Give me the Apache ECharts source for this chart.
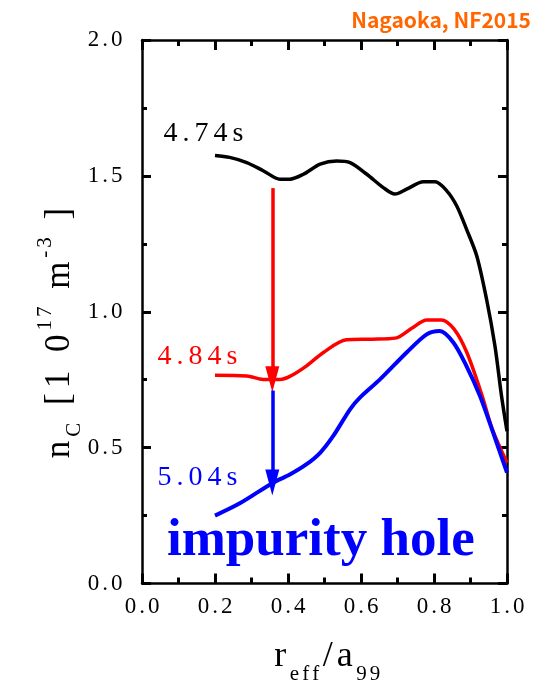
<!DOCTYPE html>
<html>
<head>
<meta charset="utf-8">
<script src="https://cdn.jsdelivr.net/npm/echarts@6/dist/echarts.min.js"></script>
<style>
html,body{margin:0;padding:0;background:#fff;}
#chart{width:559px;height:696px;}
</style>
</head>
<body>
<div id="chart"></div>
<script>
// ---- data ----
var xTickLabels = ['0.0','0.2','0.4','0.6','0.8','1.0'];
var yTickLabels = ['0.0','0.5','1.0','1.5','2.0'];

var t474_x = [0.200,0.240,0.287,0.332,0.378,0.405,0.442,0.488,0.533,0.570,0.616,0.661,0.693,0.725,0.771,0.803,0.835,0.862,0.889,0.917,0.944,0.967,0.985,1.000];
var t474_y = [1.575,1.568,1.549,1.519,1.488,1.488,1.506,1.543,1.555,1.549,1.506,1.457,1.433,1.451,1.478,1.478,1.445,1.390,1.304,1.206,1.046,0.874,0.690,0.560];

var t484_x = [0.200,0.287,0.332,0.378,0.405,0.450,0.497,0.560,0.630,0.694,0.740,0.780,0.820,0.855,0.890,0.932,0.960,1.000];
var t484_y = [0.766,0.764,0.751,0.751,0.762,0.800,0.850,0.897,0.899,0.903,0.940,0.970,0.970,0.936,0.850,0.690,0.567,0.444];

var t504_x = [0.200,0.268,0.359,0.405,0.450,0.488,0.524,0.570,0.597,0.652,0.725,0.780,0.816,0.853,0.889,0.926,0.962,1.000];
var t504_y = [0.250,0.295,0.371,0.401,0.438,0.481,0.543,0.641,0.684,0.751,0.850,0.917,0.929,0.887,0.800,0.690,0.555,0.408];

var seriesNames = ['4.74s','4.84s','5.04s'];
var seriesColors = ['#000000','#ff0000','#0000ff'];

// arrows: [x, yStart, yEnd]
var redArrow = [0.357, 1.455, 0.752];
var blueArrow = [0.357, 0.710, 0.372];

function pairs(xs, ys){ return xs.map(function(x,i){ return [x, ys[i]]; }); }
function spaced(str, name){ return str.split('').map(function(c){ return '{'+name+'|'+c+'}'; }).join(''); }

var serif = '"Liberation Serif","Times New Roman",serif';
var chart = echarts.init(document.getElementById('chart'));

var tickLine = {color:'#000', width:3};
function xAxisCfg(pos, showLabel){
  return {type:'value', position:pos, min:0, max:1, interval:0.2,
    axisLine:{show:true, onZero:false, lineStyle:{color:'#000', width:2.5}},
    axisTick:{show:true, inside:true, length:10, lineStyle:tickLine},
    minorTick:{show:true, splitNumber:2, length:6, lineStyle:tickLine},
    splitLine:{show:false},
    axisLabel:{show:showLabel, margin:12, color:'#000',
      formatter:function(v){ return spaced(xTickLabels[Math.round(v/0.2)],'d'); },
      rich:{d:{fontFamily:serif, fontSize:23, color:'#000', padding:[0,1.5,0,1.5]}}}};
}
function yAxisCfg(pos, showLabel){
  return {type:'value', position:pos, min:0, max:2, interval:0.5,
    axisLine:{show:true, onZero:false, lineStyle:{color:'#000', width:2.5}},
    axisTick:{show:true, inside:true, length:9, lineStyle:tickLine},
    minorTick:{show:true, splitNumber:2, length:5, lineStyle:tickLine},
    splitLine:{show:false},
    axisLabel:{show:showLabel, margin:18, color:'#000',
      formatter:function(v){ return spaced(yTickLabels[Math.round(v/0.5)],'d'); },
      rich:{d:{fontFamily:serif, fontSize:23, color:'#000', padding:[0,1.5,0,1.5]}}}};
}

function arrowMark(a, color){
  return {
    silent:true, animation:false,
    symbol:['none','triangle'], symbolSize:[14,26],
    lineStyle:{color:color, width:3.5, type:'solid'},
    label:{show:false},
    emphasis:{disabled:true},
    data:[[{coord:[a[0],a[1]]},{coord:[a[0],a[2]]}]]
  };
}

var lbl = {fontFamily:serif, fontSize:28, padding:[0,2.5,0,2.5]};
function lblStyle(color){ return {d:Object.assign({}, lbl, {color:color, fill:color})}; }

var option = {
  animation:false,
  grid:{left:142, right:52, top:40, bottom:112.5},
  xAxis:[xAxisCfg('bottom', true), xAxisCfg('top', false)],
  yAxis:[yAxisCfg('left', true), yAxisCfg('right', false)],
  series:[
    {name:seriesNames[0], type:'line', xAxisIndex:0, yAxisIndex:0, data:pairs(t474_x,t474_y), symbol:'none', smooth:0.3,
      lineStyle:{color:seriesColors[0], width:3.5}},
    {name:seriesNames[1], type:'line', xAxisIndex:0, yAxisIndex:0, data:pairs(t484_x,t484_y), symbol:'none', smooth:0.3,
      lineStyle:{color:seriesColors[1], width:3.5}, markLine:arrowMark(redArrow, seriesColors[1])},
    {name:seriesNames[2], type:'line', xAxisIndex:0, yAxisIndex:0, data:pairs(t504_x,t504_y), symbol:'none', smooth:0.3,
      lineStyle:{color:seriesColors[2], width:4}, markLine:arrowMark(blueArrow, seriesColors[2])}
  ],
  graphic:[
    {type:'text', x:161, y:134, style:{text:spaced(seriesNames[0],'d'), rich:lblStyle(seriesColors[0]), align:'left', verticalAlign:'middle'}},
    {type:'text', x:155, y:357, style:{text:spaced(seriesNames[1],'d'), rich:lblStyle(seriesColors[1]), align:'left', verticalAlign:'middle'}},
    {type:'text', x:155, y:478, style:{text:spaced(seriesNames[2],'d'), rich:lblStyle(seriesColors[2]), align:'left', verticalAlign:'middle'}},
    {type:'text', x:167, y:541, style:{text:'impurity hole', fill:'#0000ff', font:'bold 53px '+serif, align:'left', verticalAlign:'middle'}},
    {type:'text', x:531, y:20, style:{text:'Nagaoka, NF2015', fill:'#ff6600', font:'bold 21px "Noto Sans CJK JP","Noto Sans",sans-serif', align:'right', verticalAlign:'middle'}},
    {type:'text', x:327, y:662, style:{
      text:'{m|r}{sub|e}{sub|f}{sub|f}{m|/}{m|a}{sub|9}{sub|9}', align:'center', verticalAlign:'middle', fill:'#000',
      rich:{
        m:{fontFamily:serif, fontSize:36, lineHeight:46, verticalAlign:'top', fill:'#000', padding:[0,2,0,2]},
        sub:{fontFamily:serif, fontSize:21, lineHeight:21, verticalAlign:'bottom', fill:'#000', padding:[0,1.5,0,1.5]}
      }}},
    {type:'text', x:60, y:333, rotation:Math.PI/2, style:{
      text:'{m|n}{sub|C}{m| }{m|[}{m|1}{m| }{m|0}{sup|1}{sup|7}{m| }{m|m}{sup|-}{sup|3}{m| }{m|]}', align:'center', verticalAlign:'middle', fill:'#000',
      rich:{
        m:{fontFamily:serif, fontSize:35, lineHeight:50, verticalAlign:'middle', fill:'#000', padding:[0,2.5,0,2.5]},
        sub:{fontFamily:serif, fontSize:21, lineHeight:21, verticalAlign:'bottom', fill:'#000', padding:[0,1.5,0,1.5]},
        sup:{fontFamily:serif, fontSize:21, lineHeight:21, verticalAlign:'top', fill:'#000', padding:[0,1.5,0,1.5]}
      }}}
  ]
};
chart.setOption(option);
</script>
</body>
</html>
